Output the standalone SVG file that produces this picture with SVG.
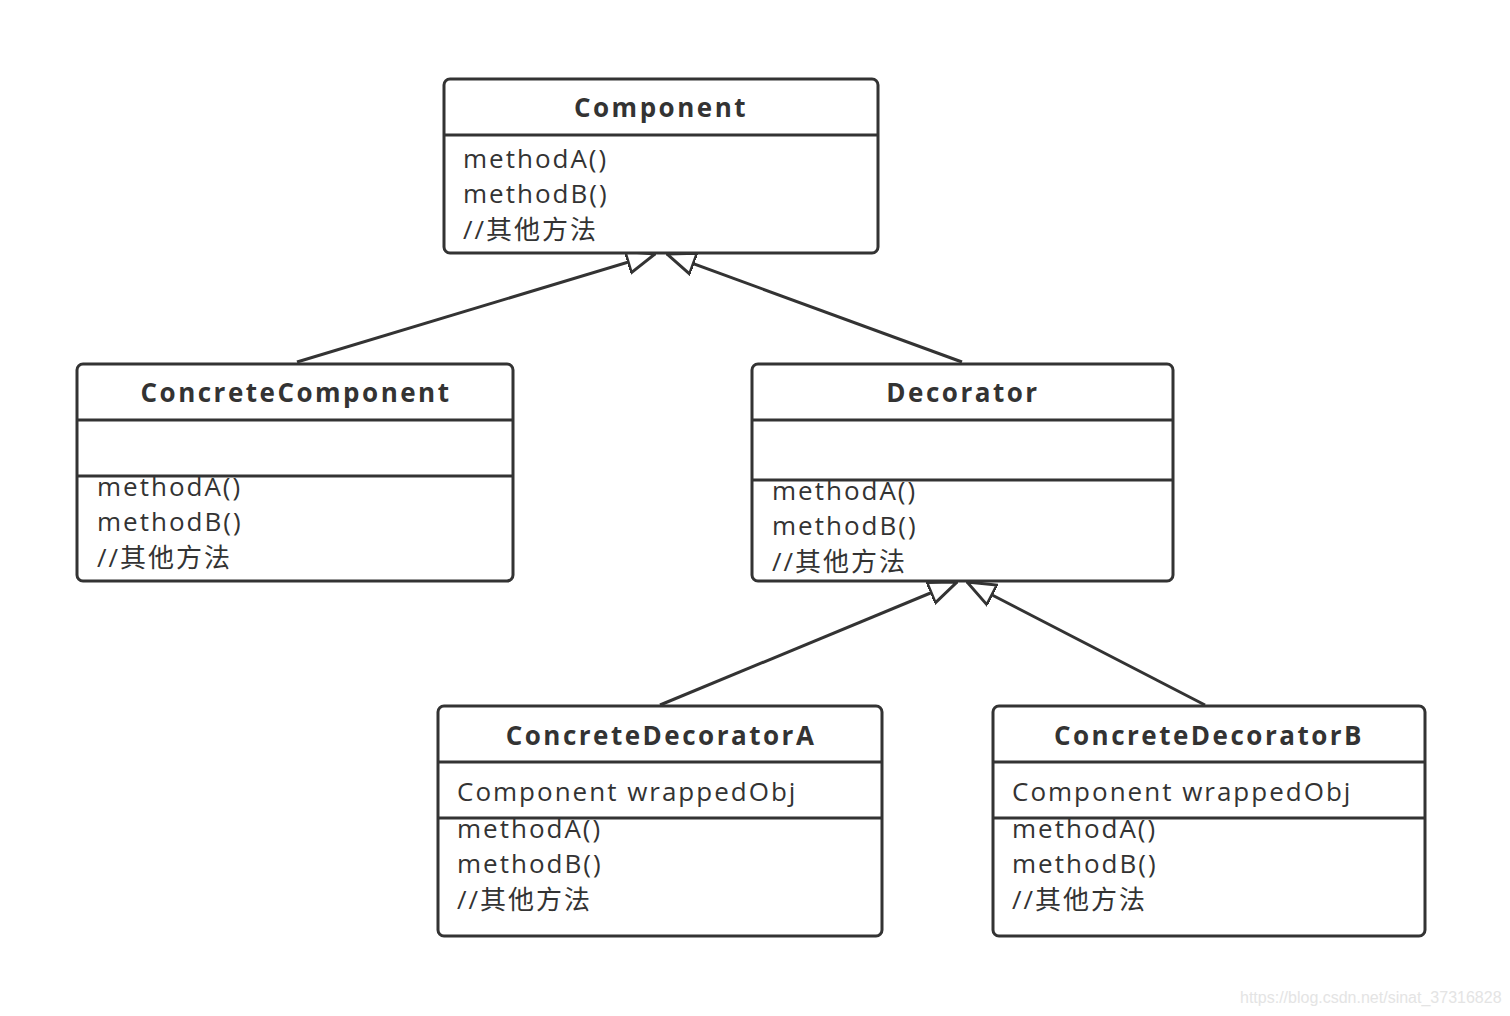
<svg xmlns="http://www.w3.org/2000/svg" width="1510" height="1016" viewBox="0 0 1510 1016">
<defs>
<style>
.box{fill:#fff;stroke:#333;stroke-width:3}
.div{stroke:#333;stroke-width:3}
.t{font-family:"Open Sans","Noto Sans CJK SC",sans-serif;font-size:26px;fill:#333;font-weight:bold;text-anchor:middle;letter-spacing:2.5px}
.m{font-family:"Open Sans","Noto Sans CJK SC",sans-serif;font-size:26px;fill:#333;letter-spacing:2px}
.c{stroke:#333;stroke-width:3;fill:none}
.wm{font-family:"Liberation Sans",sans-serif;font-size:16px;fill:#e4e4e4}
</style>
<marker id="tri" viewBox="0 0 30 26" refX="29" refY="13" markerWidth="30" markerHeight="26" markerUnits="userSpaceOnUse" orient="auto">
<path d="M1,2 L29,13 L1,24 Z" fill="#fff" stroke="#333" stroke-width="3"/>
</marker>
</defs>
<rect width="1510" height="1016" fill="#fff"/>
<g id="connectors">
<line class="c" x1="297" y1="362" x2="655" y2="254" marker-end="url(#tri)"/>
<line class="c" x1="962" y1="362" x2="667" y2="254" marker-end="url(#tri)"/>
<line class="c" x1="660" y1="705" x2="957" y2="582" marker-end="url(#tri)"/>
<line class="c" x1="1205" y1="705" x2="967" y2="582" marker-end="url(#tri)"/>
</g>
<g id="Component">
<rect class="box" x="444" y="79" width="434" height="174" rx="6"/>
<line class="div" x1="444" y1="135" x2="878" y2="135"/>
<text class="t" x="661" y="117">Component</text>
<text class="m" x="463" y="168">methodA()</text>
<text class="m" x="463" y="203">methodB()</text>
<text class="m" x="463" y="239">//其他方法</text>
</g>
<g id="ConcreteComponent">
<rect class="box" x="77" y="364" width="436" height="217" rx="6"/>
<line class="div" x1="77" y1="420" x2="513" y2="420"/>
<line class="div" x1="77" y1="476" x2="513" y2="476"/>
<text class="t" x="296" y="402">ConcreteComponent</text>
<text class="m" x="97" y="496">methodA()</text>
<text class="m" x="97" y="531">methodB()</text>
<text class="m" x="97" y="567">//其他方法</text>
</g>
<g id="Decorator">
<rect class="box" x="752" y="364" width="421" height="217" rx="6"/>
<line class="div" x1="752" y1="420" x2="1173" y2="420"/>
<line class="div" x1="752" y1="480" x2="1173" y2="480"/>
<text class="t" x="963" y="402">Decorator</text>
<text class="m" x="772" y="500">methodA()</text>
<text class="m" x="772" y="535">methodB()</text>
<text class="m" x="772" y="571">//其他方法</text>
</g>
<g id="ConcreteDecoratorA">
<rect class="box" x="438" y="706" width="444" height="230" rx="6"/>
<line class="div" x1="438" y1="762" x2="882" y2="762"/>
<line class="div" x1="438" y1="818" x2="882" y2="818"/>
<text class="t" x="661" y="745">ConcreteDecoratorA</text>
<text class="m" x="457" y="801">Component wrappedObj</text>
<text class="m" x="457" y="838">methodA()</text>
<text class="m" x="457" y="873">methodB()</text>
<text class="m" x="457" y="909">//其他方法</text>
</g>
<g id="ConcreteDecoratorB">
<rect class="box" x="993" y="706" width="432" height="230" rx="6"/>
<line class="div" x1="993" y1="762" x2="1425" y2="762"/>
<line class="div" x1="993" y1="818" x2="1425" y2="818"/>
<text class="t" x="1209" y="745">ConcreteDecoratorB</text>
<text class="m" x="1012" y="801">Component wrappedObj</text>
<text class="m" x="1012" y="838">methodA()</text>
<text class="m" x="1012" y="873">methodB()</text>
<text class="m" x="1012" y="909">//其他方法</text>
</g>
<text class="wm" x="1240" y="1003">https://blog.csdn.net/sinat_37316828</text>
</svg>
